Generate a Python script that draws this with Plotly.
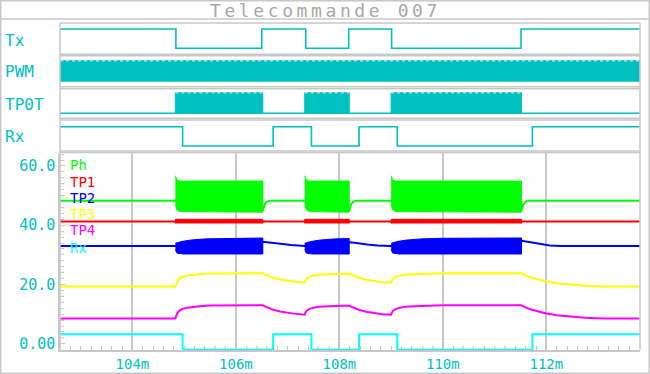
import plotly.graph_objects as go

# ---------------- data ----------------
t_range = [102.6, 113.81]
x_tick_vals = [104, 106, 108, 110, 112]
x_tick_text = ["104m", "106m", "108m", "110m", "112m"]
y_tick_vals = [0, 20, 40, 60]
y_tick_text = ["0.00", "20.0", "40.0", "60.0"]

# digital signals
tx_time = [102.6, 104.84, 106.50, 107.35, 108.18, 109.01, 111.51, 113.81]
tx_level = [1, 0, 1, 0, 1, 0, 1, 1]
rx_time = [102.6, 104.97, 106.72, 107.46, 108.38, 109.12, 111.73, 113.81]
rx_level = [1, 0, 1, 0, 1, 0, 1, 1]
burst_start = [104.83, 107.33, 109.00]
burst_end = [106.52, 108.19, 111.52]
pwm_level = [0, 1]

# analog: Ph (green)
ph_line_t = [102.6, 104.83, 106.52, 106.56, 106.60, 106.67, 107.33, 108.19, 108.23,
             108.27, 108.34, 109.00, 111.52, 111.56, 111.60, 111.67, 113.81]
ph_line_v = [48.3, 48.3, 45.0, 47.2, 48.0, 48.3, 48.3, 45.0, 47.2,
             48.0, 48.3, 48.3, 45.0, 47.2, 48.0, 48.3, 48.3]
ph_env_t = [[104.83, 104.86, 104.92, 105.00, 106.52],
            [107.33, 107.36, 107.42, 107.50, 108.19],
            [109.00, 109.03, 109.09, 109.17, 111.52]]
ph_env_top = [[56.7, 55.3, 54.9, 54.9, 54.9],
              [56.7, 55.3, 54.9, 54.9, 54.9],
              [56.7, 55.3, 54.9, 54.9, 54.9]]
ph_env_bot = [[47.0, 45.2, 44.6, 44.4, 44.4],
              [47.0, 45.2, 44.6, 44.4, 44.4],
              [47.0, 45.2, 44.6, 44.4, 44.4]]

# analog: TP1 (red)
tp1_level = 41.3
tp1_band = [40.6, 42.0]

# analog: TP2 (blue)
tp2_line_t = [102.6, 104.83, 106.52, 106.62, 106.72, 106.87, 107.07, 107.33, 108.19, 108.29,
              108.39, 108.54, 108.74, 109.00, 111.52, 111.62, 111.72, 111.87, 112.07, 112.30, 113.81]
tp2_line_v = [33.0, 33.0, 34.4, 34.2, 33.9, 33.6, 33.3, 33.0, 34.3, 34.1,
              33.8, 33.5, 33.2, 33.0, 34.8, 34.5, 34.0, 33.5, 33.15, 33.0, 33.0]
tp2_env_t = [[104.83, 104.86, 104.98, 105.13, 105.43, 105.83, 106.52],
             [107.33, 107.36, 107.48, 107.63, 107.93, 108.19],
             [109.00, 109.03, 109.15, 109.30, 109.60, 110.00, 111.52]]
tp2_env_top = [[33.9, 34.1, 34.6, 35.0, 35.4, 35.6, 35.7],
               [33.9, 34.1, 34.6, 35.0, 35.4, 35.5],
               [33.9, 34.1, 34.6, 35.0, 35.4, 35.6, 35.7]]
tp2_env_bot = [[31.8, 30.6, 30.3, 30.3, 30.3, 30.3, 30.3],
               [31.8, 30.6, 30.3, 30.3, 30.3, 30.3],
               [31.8, 30.6, 30.3, 30.3, 30.3, 30.3, 30.3]]

# analog: TP3 (yellow)
tp3_t = [102.6, 104.83, 104.84, 104.87, 104.91, 104.97, 105.05, 105.15, 105.30, 105.50, 105.80, 106.52,
         106.56, 106.62, 106.72, 106.85, 107.00, 107.15, 107.33,
         107.34, 107.37, 107.42, 107.50, 107.60, 107.80, 108.00, 108.19,
         108.23, 108.29, 108.39, 108.52, 108.67, 108.83, 109.00,
         109.01, 109.04, 109.09, 109.17, 109.27, 109.45, 109.70, 110.00, 111.52,
         111.56, 111.62, 111.72, 111.85, 112.00, 112.20, 112.45, 112.75, 113.10, 113.81]
tp3_v = [19.3, 19.3, 20.0, 21.2, 22.0, 22.6, 23.0, 23.3, 23.5, 23.7, 23.8, 23.8,
         23.4, 22.9, 22.3, 21.7, 21.2, 20.9, 20.6,
         21.2, 22.0, 22.6, 23.0, 23.3, 23.5, 23.6, 23.7,
         23.3, 22.8, 22.2, 21.6, 21.1, 20.8, 20.6,
         21.2, 22.0, 22.6, 23.0, 23.3, 23.5, 23.7, 23.8, 23.8,
         23.4, 22.9, 22.3, 21.6, 21.0, 20.4, 19.9, 19.55, 19.35, 19.3]

# analog: TP4 (magenta)
tp4_t = tp3_t
tp4_v = [8.5, 8.5, 9.2, 10.4, 11.2, 11.8, 12.2, 12.5, 12.7, 12.9, 13.0, 13.0,
         12.6, 12.1, 11.5, 10.9, 10.4, 10.1, 9.8,
         10.4, 11.2, 11.8, 12.2, 12.5, 12.7, 12.8, 12.9,
         12.5, 12.0, 11.4, 10.8, 10.3, 10.0, 9.8,
         10.4, 11.2, 11.8, 12.2, 12.5, 12.7, 12.9, 13.0, 13.0,
         12.6, 12.1, 11.5, 10.8, 10.2, 9.6, 9.1, 8.75, 8.55, 8.5]

# analog: Rx (cyan)
rx_analog = [3.2, -2.0, 3.2, -2.0, 3.2, -2.0, 3.2, 3.2]

legend_names = ["Ph", "TP1", "TP2", "TP3", "TP4", "Rx"]
legend_colors = ["#00FF00", "#FF0000", "#0000FF", "#FFFF00", "#FF00FF", "#00FFFF"]
panel_names = ["Tx", "PWM", "TP0T", "Rx"]

# ---------------- styles ----------------
TEAL = "#00C0C0"
TEAL_LIGHT = "#A0E4E4"
FRAME = "#C8C8C8"
FONT = "DejaVu Sans Mono"
W, H = 650, 374
ML, MR, MT, MB = 60, 10, 23, 24
PH = H - MT - MB  # plot height in px
PW = W - ML - MR


def py(px):  # pixel y -> paper
    return (H - MB - px) / PH


def pxx(px):  # pixel x -> paper
    return (px - ML) / PW


def polys(ts_list, tops, bots):
    X, Y = [], []
    for ts, tp, bt in zip(ts_list, tops, bots):
        X += list(ts) + list(ts[::-1]) + [None]
        Y += list(tp) + list(bt[::-1]) + [None]
    return X, Y


def rects(starts, ends, lo, hi):
    X, Y = [], []
    for a, b in zip(starts, ends):
        X += [a, a, b, b, None]
        Y += [lo, hi, hi, lo, None]
    return X, Y


def tops(starts, ends, level):
    X, Y = [], []
    for a, b in zip(starts, ends):
        X += [a, b, None]
        Y += [level, level, None]
    return X, Y


fig = go.Figure()

# ---- Tx panel (x2/y2)
fig.add_trace(go.Scatter(x=tx_time, y=tx_level, mode="lines", xaxis="x2", yaxis="y2",
                         line=dict(color=TEAL, width=1.6, shape="hv")))
# ---- PWM panel (x3/y3)
X, Y = rects([t_range[0]], [t_range[1]], pwm_level[0], pwm_level[1])
fig.add_trace(go.Scatter(x=X, y=Y, mode="lines", fill="toself", fillcolor=TEAL,
                         line=dict(color=TEAL, width=1), xaxis="x3", yaxis="y3"))
X, Y = tops([t_range[0]], [t_range[1]], pwm_level[1])
fig.add_trace(go.Scatter(x=X, y=Y, mode="lines", xaxis="x3", yaxis="y3",
                         line=dict(color=TEAL_LIGHT, width=1.5, dash="3px,3px")))
# ---- TP0T panel (x4/y4)
fig.add_trace(go.Scatter(x=t_range, y=[0, 0], mode="lines", xaxis="x4", yaxis="y4",
                         line=dict(color=TEAL, width=1.6)))
X, Y = rects(burst_start, burst_end, 0, 1)
fig.add_trace(go.Scatter(x=X, y=Y, mode="lines", fill="toself", fillcolor=TEAL,
                         line=dict(color=TEAL, width=1), xaxis="x4", yaxis="y4"))
X, Y = tops(burst_start, burst_end, 1)
fig.add_trace(go.Scatter(x=X, y=Y, mode="lines", xaxis="x4", yaxis="y4",
                         line=dict(color=TEAL_LIGHT, width=1.5, dash="3px,3px")))
# ---- Rx panel (x5/y5)
fig.add_trace(go.Scatter(x=rx_time, y=rx_level, mode="lines", xaxis="x5", yaxis="y5",
                         line=dict(color=TEAL, width=1.6, shape="hv")))

# ---- analog panel (x/y)
G, R, B, Yl, M, C = legend_colors
fig.add_trace(go.Scatter(x=ph_line_t, y=ph_line_v, mode="lines", line=dict(color=G, width=2)))
X, Y = polys(ph_env_t, ph_env_top, ph_env_bot)
fig.add_trace(go.Scatter(x=X, y=Y, mode="lines", fill="toself", fillcolor=G,
                         line=dict(color=G, width=1)))
fig.add_trace(go.Scatter(x=t_range, y=[tp1_level] * 2, mode="lines", line=dict(color=R, width=2)))
X, Y = rects(burst_start, burst_end, tp1_band[0], tp1_band[1])
fig.add_trace(go.Scatter(x=X, y=Y, mode="lines", fill="toself", fillcolor=R,
                         line=dict(color=R, width=1)))
fig.add_trace(go.Scatter(x=tp2_line_t, y=tp2_line_v, mode="lines", line=dict(color=B, width=2)))
X, Y = polys(tp2_env_t, tp2_env_top, tp2_env_bot)
fig.add_trace(go.Scatter(x=X, y=Y, mode="lines", fill="toself", fillcolor=B,
                         line=dict(color=B, width=1)))
fig.add_trace(go.Scatter(x=tp3_t, y=tp3_v, mode="lines", line=dict(color=Yl, width=2)))
fig.add_trace(go.Scatter(x=tp4_t, y=tp4_v, mode="lines", line=dict(color=M, width=2)))
fig.add_trace(go.Scatter(x=rx_time, y=rx_analog, mode="lines", line=dict(color=C, width=2, shape="hv")))

# ---------------- layout ----------------
dig_domains = {
    2: [py(54.3), 1.0],
    3: [py(86.7), py(55.7)],
    4: [py(118.3), py(88.7)],
    5: [py(151.0), py(120.0)],
}
dig_ranges = {2: [-0.311, 1.311], 3: [-0.238, 1.238], 4: [-0.243, 1.194], 5: [-0.259, 1.347]}

layout = dict(
    width=W, height=H, autosize=False, margin=dict(l=ML, r=MR, t=MT, b=MB, pad=0, autoexpand=False),
    paper_bgcolor="white", plot_bgcolor="white", showlegend=False,
    xaxis=dict(range=t_range, domain=[0, 1], anchor="y", tickmode="array", automargin=False,
               tickvals=x_tick_vals, ticktext=x_tick_text,
               tickfont=dict(family=FONT, size=14, color=TEAL),
               showline=True, linecolor=FRAME, linewidth=1.5,
               showgrid=True, gridcolor=FRAME, gridwidth=1.5, zeroline=False,
               ticks="inside", ticklen=4, tickcolor=FRAME, layer="below traces",
               minor=dict(tickmode="linear", tick0=0, dtick=0.2, ticks="inside",
                          ticklen=4, tickcolor=FRAME, showgrid=False)),
    yaxis=dict(range=[-2.09, 64.54], domain=[0, py(152.5)], anchor="x", tickmode="array",
               automargin=False,
               tickvals=y_tick_vals, ticktext=y_tick_text,
               tickfont=dict(family=FONT, size=15, color=TEAL),
               showline=True, linecolor=FRAME, linewidth=1.5,
               showgrid=False, zeroline=False, ticks="inside", ticklen=5,
               tickcolor=FRAME, layer="below traces",
               minor=dict(tickmode="linear", tick0=0, dtick=2, ticks="inside",
                          ticklen=4, tickcolor=FRAME)),
)
for k in (2, 3, 4, 5):
    layout[f"xaxis{k}"] = dict(matches="x", range=t_range, domain=[0, 1], anchor=f"y{k}",
                               showticklabels=False, showgrid=False, zeroline=False,
                               showline=False, ticks="", automargin=False)
    layout[f"yaxis{k}"] = dict(range=dig_ranges[k], domain=dig_domains[k], anchor=f"x{k}",
                               showticklabels=False, showgrid=False, zeroline=False,
                               showline=False, ticks="", automargin=False)
fig.update_layout(**layout)

# frame shapes
shapes = []
line_style = dict(color=FRAME, width=1.5)
shapes.append(dict(type="rect", xref="paper", yref="paper", x0=pxx(0.75), x1=pxx(649.25),
                   y0=py(373.25), y1=py(0.75), line=line_style, layer="below"))
shapes.append(dict(type="line", xref="paper", yref="paper", x0=pxx(0.75), x1=pxx(649.25),
                   y0=py(19), y1=py(19), line=line_style))
for k in (2, 3, 4, 5):
    for yy in (0, 1):
        shapes.append(dict(type="line", xref="paper", yref=f"y{k} domain", x0=0, x1=1,
                           y0=yy, y1=yy, line=line_style))
shapes.append(dict(type="line", xref="paper", yref="y domain", x0=0, x1=1, y0=1, y1=1, line=line_style))
shapes.append(dict(type="line", xref="paper", yref="paper", x0=0, x1=0, y0=0, y1=1, line=line_style))
shapes.append(dict(type="line", xref="paper", yref="paper", x0=1, x1=1, y0=0, y1=1, line=line_style))
fig.update_layout(shapes=shapes)

# texts
ann = []
ann.append(dict(text='<span style="letter-spacing:3.6px">Telecommande 007</span>',
                xref="paper", yref="paper", x=pxx(325), y=py(10.5), xanchor="center",
                yanchor="middle", showarrow=False,
                font=dict(family=FONT, size=18, color="#A8A8A8")))
panel_y = [40, 71.7, 104.5, 136.7]
for name, yy in zip(panel_names, panel_y):
    ann.append(dict(text=name, xref="paper", yref="paper", x=pxx(3), y=py(yy),
                    xanchor="left", yanchor="middle", showarrow=False,
                    font=dict(family=FONT, size=16, color=TEAL)))
legend_y = [165, 182.3, 198.3, 214.3, 230.5, 247.7]
for name, col, yy in zip(legend_names, legend_colors, legend_y):
    ann.append(dict(text=name, xref="paper", yref="paper", x=pxx(68), y=py(yy),
                    xanchor="left", yanchor="middle", showarrow=False,
                    font=dict(family=FONT, size=14, color=col)))
fig.update_layout(annotations=ann)

fig.write_html("out.html")
